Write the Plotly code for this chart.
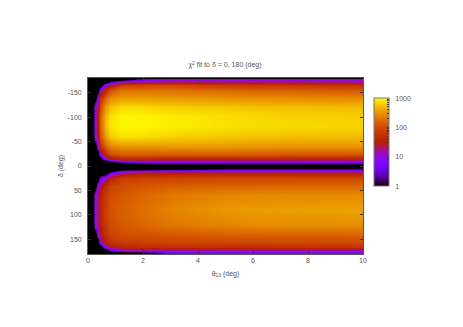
import math
import plotly.graph_objects as go

theta13 = [0, .19, .25, .35, .45, .6, .8, 1.2, 2, 3, 5, 7, 10]
delta = [-180, -177, -172, -165, -155, -140, -120, -100, -80, -60, -40, -25, -15, -10, -6, 0,
         7, 11, 15, 25, 40, 60, 90, 120, 140, 155, 165, 172, 177, 180]
# log10(chi^2)
log_chi2 = [
    [-.5, -.5, -.5, -.5, -.5, -.5, -.5, -.5, -.5, -.5, -.5, -.5, -.5],
    [-.5, -.5, -.5, -.5, -.5, -.5, -.5, -.5, .5, .9, .9, .9, .9],
    [-.5, -.5, -.5, -.5, -.5, -.5, .3, 1.1, 1.3, 1.35, 1.3, 1.3, 1.25],
    [-.5, -.5, -.5, -.5, -.5, 1.0, 1.4, 1.85, 1.95, 1.95, 1.85, 1.8, 1.75],
    [-.5, -.5, -.5, -.5, 1.05, 1.6, 2.05, 2.3, 2.3, 2.28, 2.2, 2.15, 2.1],
    [-.5, -.5, -.5, 1.1, 1.7, 2.15, 2.45, 2.55, 2.55, 2.53, 2.5, 2.47, 2.45],
    [-.5, -.5, 1.05, 1.35, 2.0, 2.5, 2.72, 2.85, 2.84, 2.8, 2.76, 2.72, 2.7],
    [-.5, -.5, 1.1, 1.5, 2.15, 2.65, 2.88, 2.97, 2.96, 2.93, 2.87, 2.83, 2.8],
    [-.5, -.5, 1.1, 1.5, 2.15, 2.65, 2.88, 2.97, 2.96, 2.93, 2.87, 2.84, 2.82],
    [-.5, -.5, 1.05, 1.4, 2.05, 2.52, 2.75, 2.88, 2.85, 2.8, 2.75, 2.72, 2.7],
    [-.5, -.5, -.5, 1.1, 1.7, 2.15, 2.4, 2.5, 2.52, 2.55, 2.55, 2.5, 2.5],
    [-.5, -.5, -.5, -.5, 1.05, 1.6, 2.0, 2.15, 2.15, 2.15, 2.15, 2.1, 2.1],
    [-.5, -.5, -.5, -.5, -.5, 1.0, 1.3, 1.6, 1.6, 1.55, 1.55, 1.55, 1.5],
    [-.5, -.5, -.5, -.5, -.5, -.5, .3, 1.05, 1.15, 1.1, 1.1, 1.1, 1.05],
    [-.5, -.5, -.5, -.5, -.5, -.5, -.5, -.3, .3, .4, .4, .4, .4],
    [-.5, -.5, -.5, -.5, -.5, -.5, -.5, -.5, -.5, -.5, -.5, -.5, -.5],
    [-.5, -.5, -.5, -.5, -.5, -.5, -.5, -.5, -.5, -.2, .3, .3, .3],
    [-.5, -.5, -.5, -.5, -.5, -.5, -.3, .7, 1.1, 1.1, 1.1, 1.1, 1.1],
    [-.5, -.5, -.5, -.5, -.5, -.5, .7, 1.25, 1.5, 1.52, 1.55, 1.55, 1.52],
    [-.5, -.5, -.5, -.5, .6, 1.15, 1.55, 1.85, 1.9, 1.92, 1.95, 1.95, 1.95],
    [-.5, -.5, -.5, 1.1, 1.3, 1.65, 1.9, 2.0, 2.07, 2.15, 2.2, 2.22, 2.22],
    [-.5, -.5, 1.05, 1.25, 1.55, 1.8, 2.0, 2.1, 2.22, 2.33, 2.42, 2.44, 2.45],
    [-.5, -.5, 1.1, 1.3, 1.6, 1.85, 2.05, 2.15, 2.28, 2.4, 2.52, 2.56, 2.58],
    [-.5, -.5, 1.05, 1.25, 1.55, 1.8, 2.0, 2.1, 2.22, 2.32, 2.42, 2.46, 2.46],
    [-.5, -.5, -.5, 1.1, 1.4, 1.7, 1.9, 2.0, 2.05, 2.12, 2.17, 2.2, 2.2],
    [-.5, -.5, -.5, -.5, 1.1, 1.5, 1.75, 1.85, 1.9, 1.92, 1.95, 1.97, 1.97],
    [-.5, -.5, -.5, -.5, -.5, 1.05, 1.4, 1.6, 1.7, 1.7, 1.7, 1.72, 1.72],
    [-.5, -.5, -.5, -.5, -.5, -.5, .5, 1.05, 1.15, 1.15, 1.15, 1.15, 1.15],
    [-.5, -.5, -.5, -.5, -.5, -.5, -.5, -.5, -.3, .6, .8, .8, .8],
    [-.5, -.5, -.5, -.5, -.5, -.5, -.5, -.5, -.5, -.5, -.5, -.5, -.5],
]
bar_labels = ["1", "10", "100", "1000"]
x_ticks = [0, 2, 4, 6, 8, 10]
y_ticks = [-150, -100, -50, 0, 50, 100, 150]
y_labels = ["-150", "-100", "-50", "0", "50", "100", "150"]

# gnuplot's default pm3d palette (rgbformulae 7,5,15)
scale = []
for i in range(65):
    u = i / 64
    r = math.sqrt(u)
    g = u ** 3
    b = max(0.0, math.sin(2 * math.pi * u))
    scale.append([u, f"rgb({round(r*255)},{round(g*255)},{round(b*255)})"])

NB = "\u00a0"
bar_vals, bar_text = [], []
for d in range(3):
    for m in range(1, 10):
        bar_vals.append(d + math.log10(m))
        bar_text.append(NB * 2 + bar_labels[d] if m == 1 else "")
bar_vals.append(3)
bar_text.append(NB * 2 + bar_labels[3])

FONT = dict(family="Liberation Sans", size=7, color="#555555")

fig = go.Figure(go.Heatmap(
    x=theta13, y=delta, z=log_chi2, zmin=0, zmax=3, zsmooth="best",
    colorscale=scale, hoverinfo="skip",
    colorbar=dict(
        x=1.04, xanchor="left", xpad=0, y=0.636, yanchor="middle", ypad=0,
        thickness=15, thicknessmode="pixels", len=88, lenmode="pixels",
        tickmode="array", tickvals=bar_vals, ticktext=bar_text,
        ticks="inside", ticklen=2, tickwidth=1, tickcolor="#333333",
        tickfont=FONT, outlinecolor="#777777", outlinewidth=1, borderwidth=0,
    ),
))
fig.update_layout(
    width=463, height=327, autosize=False,
    margin=dict(l=80, r=108, t=70, b=81),
    paper_bgcolor="white", plot_bgcolor="black",
    font=FONT, showlegend=False,
    title=dict(text="χ<sup>2</sup> fit to δ = 0, 180 (deg)", x=217 / 463, xanchor="center",
               y=1 - 57 / 327, yanchor="middle", font=FONT),
    xaxis=dict(range=[0, 10], tickmode="array", tickvals=x_ticks, ticks="inside", ticklen=3,
               tickcolor="#333333", showgrid=False, zeroline=False, mirror="ticks",
               showline=True, linecolor="#555555", linewidth=1, tickfont=FONT,
               title=dict(text="θ<sub>13</sub> (deg)", font=FONT, standoff=7)),
    yaxis=dict(range=[180, -180], tickmode="array", tickvals=y_ticks,
               ticktext=[t + NB * 2 for t in y_labels], ticks="inside", ticklen=3,
               tickcolor="#333333", showgrid=False, zeroline=False, mirror="ticks",
               showline=True, linecolor="#555555", linewidth=1, tickfont=FONT,
               title=dict(text="δ (deg)", font=FONT, standoff=3)),
)
fig.write_html("out.html")
